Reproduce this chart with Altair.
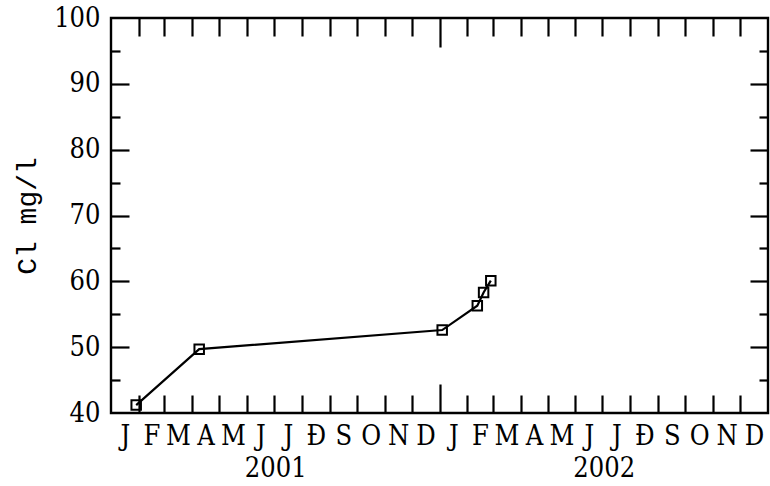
import json
import altair as alt
import pandas as pd

# ---- data ----
sample_dates = ["2001-01-29", "2001-04-09", "2002-01-04", "2002-02-12", "2002-02-19", "2002-02-27"]
cl_values = [41.2, 49.7, 52.6, 56.3, 58.3, 60.1]
month_letters = ["J", "F", "M", "A", "M", "J", "J", "Ð", "S", "O", "N", "D"]
years = [2001, 2002]
y_major = [40, 50, 60, 70, 80, 90, 100]
y_inner = [45, 50, 55, 60, 65, 70, 75, 80, 85, 90, 95]
y_title = "Cl  mg/l"

df = pd.DataFrame({"date": sample_dates, "cl": cl_values})

W, H = 657, 395
FONT = "DejaVu Serif Condensed, DejaVu Serif"
FS = 27
FW = "normal"


def ts(y, m, d=1):
    return int(pd.Timestamp(year=y, month=m, day=d, tz="UTC").timestamp() * 1000)


month_starts = [ts(y, m) for y in years for m in range(1, 13)]
month_ends = month_starts[1:] + [ts(years[-1] + 1, 1)]
month_mids = [(a + b) / 2 for a, b in zip(month_starts, month_ends)]
inner_month_ticks = month_starts[1:]
year_mids = [(ts(y, 1) + ts(y + 1, 1)) / 2 for y in years]

xscale = alt.Scale(type="utc", domain=[ts(years[0], 1), ts(years[-1] + 1, 1)])
yscale = alt.Scale(domain=[40, 100], nice=False, zero=False)

letters_js = json.dumps(month_letters, ensure_ascii=False)

x_tick_size = {"condition": {"test": "utcmonth(datum.value) === 0", "value": 29}, "value": 18}
y_tick_size = {"condition": {"test": "datum.value % 10 === 0", "value": 18}, "value": 9}


def tick_axis(orient, values, size):
    return alt.Axis(orient=orient, values=values, tickSize=size, labels=False, domain=False,
                    grid=False, title=None, tickColor="black", tickWidth=2.2,
                    offset=-(H if orient in ("top", "bottom") else W))


base = alt.Chart(df)

# main line with labelled axes
line = base.mark_line(color="black", strokeWidth=2.2).encode(
    x=alt.X("date:T", scale=xscale, axis=alt.Axis(
        orient="bottom", values=month_mids, ticks=False, domain=False, grid=False, title=None,
        labelExpr=f"{letters_js}[utcmonth(datum.value)]", labelFont=FONT, labelFontSize=FS,
        labelFontWeight=FW, labelColor="black", labelPadding=10, labelAlign="center",
        labelOverlap=False, labelFlush=False)),
    y=alt.Y("cl:Q", scale=yscale, axis=alt.Axis(
        orient="left", values=y_major, ticks=False, domain=False, grid=False, title=y_title,
        labelFont=FONT, labelFontSize=FS, labelFontWeight=FW, labelColor="black", labelPadding=11,
        labelOverlap=False, labelFlush=False, titleFont="Liberation Mono", titleFontSize=28,
        titleFontWeight="normal", titleColor="black", titlePadding=12)),
)

points = base.mark_point(shape="square", size=90, filled=False, color="black", strokeWidth=2, opacity=1).encode(
    x=alt.X("date:T", scale=xscale, axis=tick_axis("top", inner_month_ticks, x_tick_size)),
    y=alt.Y("cl:Q", scale=yscale, axis=tick_axis("right", y_inner, y_tick_size)),
)

ghost = base.mark_point(opacity=0)
l3 = ghost.encode(
    x=alt.X("date:T", scale=xscale, axis=tick_axis("bottom", inner_month_ticks, x_tick_size)),
    y=alt.Y("cl:Q", scale=yscale, axis=tick_axis("left", y_inner, y_tick_size)),
)
l4 = ghost.encode(
    x=alt.X("date:T", scale=xscale, axis=alt.Axis(
        orient="bottom", values=year_mids, ticks=False, domain=False, grid=False, title=None,
        labelExpr="utcFormat(datum.value, '%Y')", labelFont=FONT, labelFontSize=FS,
        labelFontWeight=FW, labelColor="black", labelPadding=42, labelOverlap=False,
        labelFlush=False)),
    y=alt.Y("cl:Q", scale=yscale, axis=None),
)

chart = (
    alt.layer(line, points, l3, l4)
    .resolve_scale(x="shared", y="shared")
    .resolve_axis(x="independent", y="independent")
    .properties(width=W, height=H, autosize=alt.AutoSizeParams(type="none"),
                padding={"left": 111, "top": 18, "right": 2, "bottom": 73}, background="white")
    .configure_view(stroke="black", strokeWidth=2.4)
)

chart.save("out.html", embed_options={"renderer": "svg", "actions": False})
